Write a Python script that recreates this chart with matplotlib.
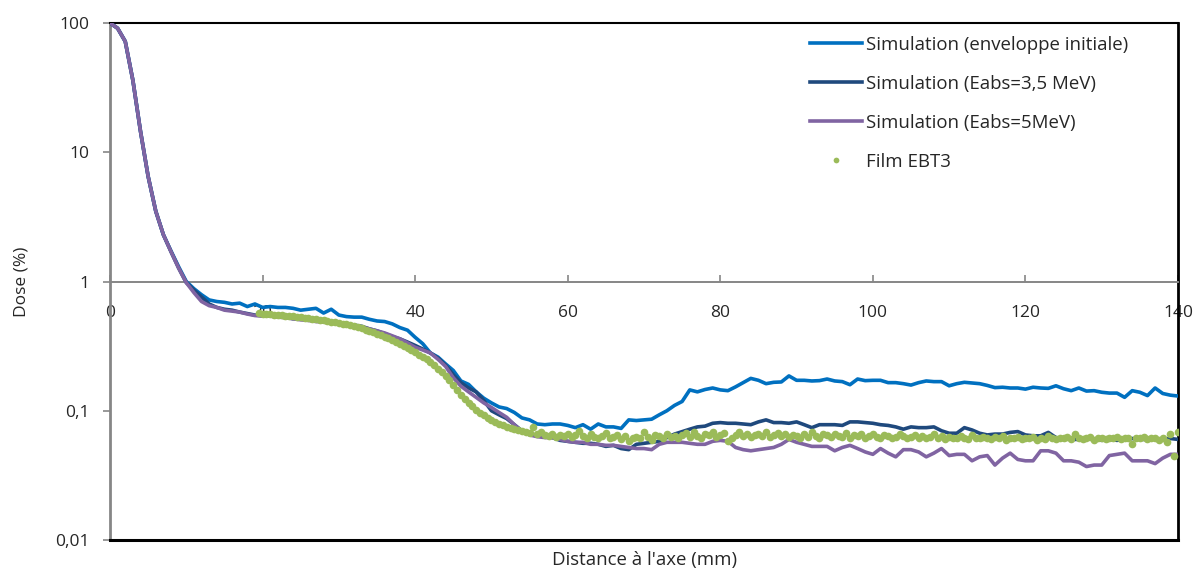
import numpy as np
import matplotlib
matplotlib.use("Agg")
import matplotlib.pyplot as plt
from matplotlib.ticker import FixedLocator, FixedFormatter, NullLocator

plt.rcParams['font.family'] = ['Open Sans', 'DejaVu Sans']

# ---------------- data ----------------
sim_initial = [100, 91, 72, 36, 14.5, 6.5, 3.5, 2.3, 1.72, 1.3, 1.0,
               0.88, 0.79, 0.72, 0.70, 0.69, 0.67, 0.68, 0.64, 0.67, 0.63,
               0.64, 0.63, 0.63, 0.62, 0.60, 0.61, 0.62, 0.57, 0.61, 0.55,
               0.535, 0.53, 0.53, 0.51, 0.495, 0.49, 0.47, 0.44, 0.42, 0.37,
               0.33, 0.28, 0.26, 0.23, 0.205, 0.17, 0.16, 0.14, 0.125, 0.115,
               0.107, 0.104, 0.097, 0.088, 0.085, 0.079, 0.078, 0.079, 0.079, 0.077,
               0.074, 0.078, 0.072, 0.079, 0.075, 0.075, 0.073, 0.085, 0.084, 0.085,
               0.086, 0.093, 0.10, 0.11, 0.118, 0.145, 0.14, 0.146, 0.15, 0.145,
               0.143, 0.153, 0.165, 0.178, 0.172, 0.162, 0.166, 0.167, 0.186, 0.172,
               0.172, 0.17, 0.171, 0.176, 0.17, 0.168, 0.159, 0.176, 0.171, 0.172,
               0.172, 0.165, 0.165, 0.162, 0.158, 0.165, 0.17, 0.168, 0.168, 0.156,
               0.162, 0.166, 0.164, 0.162, 0.157, 0.151, 0.152, 0.15, 0.15, 0.147,
               0.152, 0.15, 0.149, 0.156, 0.148, 0.143, 0.15, 0.142, 0.143, 0.139,
               0.137, 0.137, 0.127, 0.143, 0.139, 0.131, 0.15, 0.136, 0.132, 0.13]

sim_eabs35 = [100, 91, 72, 36, 14.5, 6.5, 3.5, 2.3, 1.7, 1.27, 0.98,
              0.86, 0.76, 0.67, 0.63, 0.61, 0.60, 0.58, 0.565, 0.55, 0.545,
              0.545, 0.54, 0.53, 0.515, 0.52, 0.51, 0.50, 0.495, 0.485, 0.475,
              0.47, 0.46, 0.45, 0.43, 0.415, 0.395, 0.375, 0.36, 0.34, 0.32,
              0.30, 0.28, 0.255, 0.225, 0.19, 0.165, 0.15, 0.14, 0.12, 0.10,
              0.093, 0.087, 0.078, 0.07, 0.066, 0.064, 0.063, 0.062, 0.059, 0.058,
              0.057, 0.056, 0.056, 0.055, 0.053, 0.054, 0.051, 0.05, 0.055, 0.056,
              0.057, 0.058, 0.062, 0.066, 0.069, 0.072, 0.075, 0.076, 0.08, 0.081,
              0.08, 0.08, 0.079, 0.078, 0.082, 0.085, 0.081, 0.081, 0.08, 0.082,
              0.078, 0.074, 0.078, 0.078, 0.078, 0.077, 0.082, 0.082, 0.081, 0.08,
              0.078, 0.077, 0.075, 0.072, 0.075, 0.074, 0.074, 0.075, 0.07, 0.067,
              0.067, 0.074, 0.071, 0.067, 0.065, 0.066, 0.066, 0.068, 0.069, 0.065,
              0.064, 0.064, 0.068, 0.062, 0.061, 0.06, 0.06, 0.061, 0.06, 0.059,
              0.06, 0.059, 0.06, 0.061, 0.06, 0.06, 0.061, 0.06, 0.061, 0.06]

sim_eabs5 = [100, 91, 72, 36, 14.5, 6.5, 3.5, 2.3, 1.7, 1.27, 0.98,
             0.82, 0.70, 0.65, 0.63, 0.60, 0.59, 0.58, 0.56, 0.545, 0.54,
             0.54, 0.53, 0.525, 0.515, 0.505, 0.50, 0.49, 0.485, 0.478, 0.47,
             0.465, 0.455, 0.445, 0.43, 0.415, 0.40, 0.38, 0.36, 0.335, 0.31,
             0.295, 0.28, 0.25, 0.22, 0.18, 0.155, 0.14, 0.127, 0.115, 0.106,
             0.097, 0.089, 0.078, 0.069, 0.065, 0.063, 0.062, 0.062, 0.06, 0.058,
             0.057, 0.057, 0.055, 0.055, 0.054, 0.054, 0.053, 0.052, 0.051, 0.051,
             0.05, 0.055, 0.057, 0.057, 0.057, 0.056, 0.055, 0.055, 0.058, 0.059,
             0.058, 0.052, 0.05, 0.049, 0.05, 0.051, 0.052, 0.055, 0.06, 0.057,
             0.055, 0.053, 0.053, 0.053, 0.049, 0.052, 0.054, 0.051, 0.048, 0.046,
             0.051, 0.047, 0.044, 0.05, 0.05, 0.048, 0.044, 0.047, 0.051, 0.045,
             0.046, 0.046, 0.041, 0.044, 0.045, 0.038, 0.043, 0.047, 0.042, 0.041,
             0.041, 0.049, 0.049, 0.047, 0.041, 0.041, 0.04, 0.037, 0.038, 0.038,
             0.045, 0.046, 0.047, 0.041, 0.041, 0.041, 0.039, 0.043, 0.046, 0.046]

sim_x = np.arange(len(sim_initial))  # 1 mm steps from 0 mm

film_ebt3 = [0.57, 0.565, 0.56, 0.558, 0.555, 0.55, 0.548, 0.545, 0.54, 0.537, 0.533,
             0.53, 0.525, 0.52, 0.515, 0.51, 0.505, 0.5, 0.495, 0.49, 0.487,
             0.475, 0.47, 0.465, 0.458, 0.45, 0.443, 0.435, 0.425, 0.415, 0.405,
             0.395, 0.385, 0.375, 0.365, 0.355, 0.343, 0.33, 0.318, 0.305, 0.295,
             0.285, 0.272, 0.26, 0.25, 0.24, 0.225, 0.21, 0.198, 0.185, 0.172,
             0.158, 0.145, 0.133, 0.124, 0.115, 0.108, 0.101, 0.096, 0.092, 0.088,
             0.085, 0.082, 0.079, 0.077, 0.075, 0.073, 0.072, 0.071, 0.07, 0.068,
             0.067, 0.075, 0.066, 0.068, 0.065, 0.064, 0.066, 0.063, 0.065, 0.064,
             0.066, 0.063, 0.065, 0.07, 0.064, 0.062, 0.066, 0.063, 0.061, 0.064,
             0.067, 0.062, 0.063, 0.065, 0.06, 0.064, 0.058, 0.062, 0.063, 0.061,
             0.068, 0.063, 0.059, 0.065, 0.064, 0.062, 0.066, 0.063, 0.064, 0.062,
             0.065, 0.067, 0.063, 0.068, 0.064, 0.062, 0.066, 0.065, 0.068, 0.063,
             0.065, 0.067, 0.058, 0.062, 0.065, 0.068, 0.064, 0.066, 0.063, 0.065,
             0.066, 0.064, 0.068, 0.063, 0.065, 0.067, 0.064, 0.066, 0.063, 0.065,
             0.064, 0.062, 0.066, 0.063, 0.068, 0.064, 0.062, 0.066, 0.065, 0.063,
             0.066, 0.064, 0.063, 0.067, 0.062, 0.065, 0.064, 0.066, 0.061, 0.064,
             0.066, 0.063, 0.062, 0.065, 0.064, 0.061, 0.063, 0.066, 0.064, 0.062,
             0.063, 0.065, 0.062, 0.064, 0.061, 0.063, 0.066, 0.062, 0.064, 0.06,
             0.063, 0.062, 0.061, 0.064, 0.062, 0.06, 0.065, 0.062, 0.061, 0.063,
             0.062, 0.06, 0.063, 0.061, 0.064, 0.059, 0.062, 0.061, 0.063, 0.06,
             0.062, 0.061, 0.063, 0.059, 0.062, 0.06, 0.064, 0.061, 0.06, 0.062,
             0.061, 0.063, 0.06, 0.066, 0.062, 0.06, 0.061, 0.063, 0.059, 0.062,
             0.061, 0.06, 0.062, 0.061, 0.063, 0.06, 0.062, 0.061, 0.055, 0.062,
             0.061, 0.063, 0.06, 0.062, 0.061, 0.059, 0.062, 0.057, 0.066, 0.045,
             0.068]
film_x = 19.5 + 0.5 * np.arange(len(film_ebt3))

y_ticks = [0.01, 0.1, 1, 10, 100]
y_tick_labels = ["0,01", "0,1", "1", "10", "100"]
x_ticks = [0, 20, 40, 60, 80, 100, 120, 140]
x_tick_labels = ["0", "20", "40", "60", "80", "100", "120", "140"]

labels = ["Simulation (enveloppe initiale)", "Simulation (Eabs=3,5 MeV)",
          "Simulation (Eabs=5MeV)", "Film EBT3"]

# ---------------- figure ----------------
W, H = 1194, 570
fig = plt.figure(figsize=(W / 100, H / 100), dpi=100)
ax = fig.add_axes([110 / W, 1 - 540 / H, (1178 - 110) / W, (540 - 23) / H])

ax.set_yscale('log')
ax.set_xlim(0, 140)
ax.set_ylim(0.01, 100)

c_blue = '#0070C0'
c_navy = '#1F497D'
c_purple = '#8064A2'
c_green = '#9BBB59'

ax.plot(sim_x, sim_initial, color=c_blue, lw=2.6, label=labels[0], zorder=3)
ax.plot(sim_x, sim_eabs35, color=c_navy, lw=2.6, label=labels[1], zorder=3)
ax.plot(sim_x, sim_eabs5, color=c_purple, lw=2.6, label=labels[2], zorder=3)
ax.plot(film_x, film_ebt3, ls='none', marker='o', ms=5.5, mec='none',
        color=c_green, label=labels[3], zorder=4)

# y axis
ax.yaxis.set_major_locator(FixedLocator(y_ticks))
ax.yaxis.set_major_formatter(FixedFormatter(y_tick_labels))
ax.yaxis.set_minor_locator(NullLocator())
ax.tick_params(axis='y', direction='out', length=5, width=1.2, color='#868686',
               labelsize=12.5, labelcolor='#262626', pad=10)

# x axis crossing at y = 1
ax.spines['bottom'].set_position(('data', 1))
ax.spines['bottom'].set_color('#868686')
ax.spines['bottom'].set_linewidth(1.4)
ax.spines['left'].set_color('#868686')
ax.spines['left'].set_linewidth(2.0)
ax.spines['top'].set_color('black')
ax.spines['top'].set_linewidth(1.5)
ax.spines['right'].set_color('black')
ax.spines['right'].set_linewidth(2.0)
ax.xaxis.set_major_locator(FixedLocator(x_ticks))
ax.xaxis.set_major_formatter(FixedFormatter(x_tick_labels))
ax.tick_params(axis='x', direction='in', length=5, width=1.2, color='#868686',
               labelsize=12.5, labelcolor='#262626', pad=17)
ax.axhline(0.01, color='black', lw=2.2, clip_on=False, zorder=5)

ax.set_ylabel("Dose (%)", fontsize=12.5, color='#262626')
ax.yaxis.set_label_coords(-80 / (1178 - 110), 0.5)
fig.text(644 / W, 1 - 560 / H, "Distance à l'axe (mm)", ha='center', va='center',
         fontsize=13.4, color='#262626')

leg = ax.legend(loc='upper left', bbox_to_anchor=((810 - 110) / (1178 - 110), 1 - 13 / 517),
                frameon=False, fontsize=13.4, handlelength=2.8, handletextpad=0.2,
                labelspacing=1.12, borderaxespad=0, borderpad=0, markerscale=0.75)
for t in leg.get_texts():
    t.set_color('#262626')

fig.savefig("out.png", dpi=100)
